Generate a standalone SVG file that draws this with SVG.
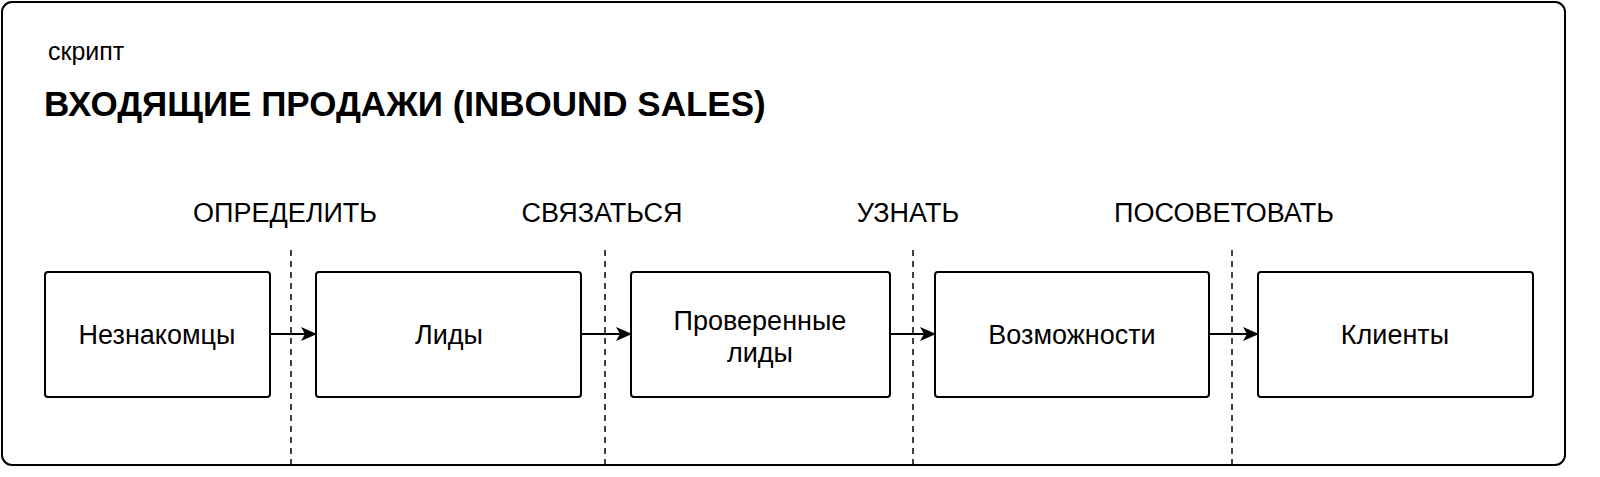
<svg xmlns="http://www.w3.org/2000/svg" width="1600" height="477" viewBox="0 0 1600 477">
<style>
text{font-family:"Liberation Sans",Arial,sans-serif;fill:#000}
.box{fill:#fff;stroke:#000;stroke-width:2}
.t{font-size:27px;text-anchor:middle}
.lbl{font-size:27px;text-anchor:middle}
.dash{stroke:#000;stroke-width:1.5;stroke-dasharray:6 5}
.arr{stroke:#000;stroke-width:2;fill:none;marker-end:url(#ah)}
</style>
<defs><marker id="ah" markerWidth="16" markerHeight="14" refX="15" refY="7" orient="auto" markerUnits="userSpaceOnUse"><path d="M0,0 L16,7 L0,14 L4,7 Z" fill="#000"/></marker></defs>
<rect x="2" y="2" width="1563" height="463" rx="10" fill="#fff" stroke="#000" stroke-width="2"/>
<text x="48" y="60" font-size="25">скрипт</text>
<text x="44" y="116" font-size="35" font-weight="bold">ВХОДЯЩИЕ ПРОДАЖИ (INBOUND SALES)</text>
<text class="lbl" x="285" y="222">ОПРЕДЕЛИТЬ</text>
<text class="lbl" x="602" y="222">СВЯЗАТЬСЯ</text>
<text class="lbl" x="908" y="222">УЗНАТЬ</text>
<text class="lbl" x="1224" y="222">ПОСОВЕТОВАТЬ</text>
<g id="connectors">
<line class="dash" x1="291" y1="250" x2="291" y2="465"/>
<line class="dash" x1="605" y1="250" x2="605" y2="465"/>
<line class="dash" x1="913" y1="250" x2="913" y2="465"/>
<line class="dash" x1="1232" y1="250" x2="1232" y2="465"/>
<line class="arr" x1="270" y1="334" x2="316" y2="334"/>
<line class="arr" x1="581" y1="334" x2="631" y2="334"/>
<line class="arr" x1="890" y1="334" x2="935" y2="334"/>
<line class="arr" x1="1209" y1="334" x2="1258" y2="334"/>
</g>
<g id="n1"><rect class="box" x="45" y="272" width="225" height="125" rx="3"/><text class="t" x="157" y="344">Незнакомцы</text></g>
<g id="n2"><rect class="box" x="316" y="272" width="265" height="125" rx="3"/><text class="t" x="449" y="344">Лиды</text></g>
<g id="n3"><rect class="box" x="631" y="272" width="259" height="125" rx="3"/><text class="t" x="760" y="330">Проверенные</text><text class="t" x="760" y="362">лиды</text></g>
<g id="n4"><rect class="box" x="935" y="272" width="274" height="125" rx="3"/><text class="t" x="1072" y="344">Возможности</text></g>
<g id="n5"><rect class="box" x="1258" y="272" width="275" height="125" rx="3"/><text class="t" x="1395" y="344">Клиенты</text></g>
</svg>
